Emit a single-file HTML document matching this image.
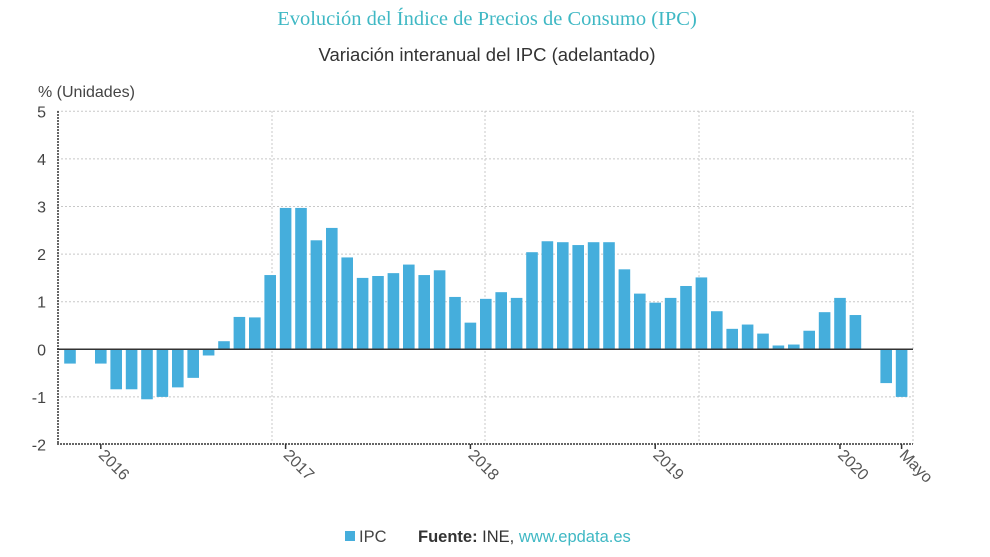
<!DOCTYPE html>
<html><head><meta charset="utf-8"><style>
html,body{margin:0;padding:0;background:#fff;width:990px;height:557px;overflow:hidden}
svg{display:block}
</style></head><body>
<svg id="s" width="990" height="557" xmlns="http://www.w3.org/2000/svg" font-family="Liberation Sans, sans-serif">
<text x="487" y="25" text-anchor="middle" font-family="Liberation Serif, serif" font-size="20.5" fill="#3fb8c4">Evolución del Índice de Precios de Consumo (IPC)</text>
<text x="487" y="61" text-anchor="middle" font-size="18.5" fill="#333">Variación interanual del IPC (adelantado)</text>
<text x="38" y="97" font-size="16" fill="#444">% (Unidades)</text>
<g id="grid" stroke="#c8c8c8" stroke-width="1" stroke-dasharray="2,2"></g>
<g id="bars" fill="#45aedc"></g>
<line x1="57" y1="349.3" x2="913" y2="349.3" stroke="#333" stroke-width="1.5"/>
<line x1="58" y1="111" x2="58" y2="444" stroke="#333" stroke-width="1.5" stroke-dasharray="2,1"/>
<line x1="57" y1="444" x2="913" y2="444" stroke="#333" stroke-width="1.5" stroke-dasharray="2,1"/>
<g id="ylab" font-size="16" fill="#444" text-anchor="end"></g>
<g id="xlab" font-size="16" fill="#555"></g>
<rect x="345" y="531" width="10" height="10" fill="#45aedc"/>
<text x="359" y="542" font-size="16.5" fill="#444">IPC</text>
<text x="418" y="542" font-size="16.5" fill="#333"><tspan font-weight="bold">Fuente:</tspan> INE, <tspan fill="#3fb8c4">www.epdata.es</tspan></text>
</svg>
<script>
var NS="http://www.w3.org/2000/svg";
function el(t,a,p){var e=document.createElementNS(NS,t);for(var k in a)e.setAttribute(k,a[k]);document.getElementById(p).appendChild(e);return e;}
var z=349.3,u=47.6;
for(var v=-2;v<=5;v++){var y=z-v*u;
 if(v!=0&&v!=-2)el("line",{x1:57,y1:y,x2:913,y2:y},"grid");
 var t=el("text",{x:46,y:y+6},"ylab");t.textContent=v;}
[272,485,699,913].forEach(function(x){el("line",{x1:x,y1:111,x2:x,y2:444},"grid");});
var d=[-0.3,0,-0.3,-0.84,-0.84,-1.05,-1.0,-0.8,-0.6,-0.13,0.17,0.68,0.67,1.56,2.97,2.97,2.29,2.55,1.93,1.5,1.54,1.6,1.78,1.56,1.66,1.1,0.56,1.06,1.2,1.08,2.04,2.27,2.25,2.19,2.25,2.25,1.68,1.17,0.98,1.08,1.33,1.51,0.8,0.43,0.52,0.33,0.08,0.1,0.39,0.78,1.08,0.72,0,-0.71,-1.0];
d.forEach(function(v,i){var c=70+15.4*i;if(v==0)return;var y=v>0?z-v*u:z;
 el("rect",{x:c-5.8,y:y,width:11.6,height:Math.abs(v)*u},"bars");});
var ticks=[[2,"2016"],[14,"2017"],[26,"2018"],[38,"2019"],[50,"2020"],[54,"Mayo"]];
ticks.forEach(function(t){var c=70+15.4*t[0];
 el("line",{x1:c,y1:444,x2:c,y2:449,stroke:"#333","stroke-width":1.5},"xlab");
 var e=el("text",{x:0,y:0,transform:"translate("+(c-3)+",456) rotate(45)"},"xlab");e.textContent=t[1];});
</script>
</body></html>
